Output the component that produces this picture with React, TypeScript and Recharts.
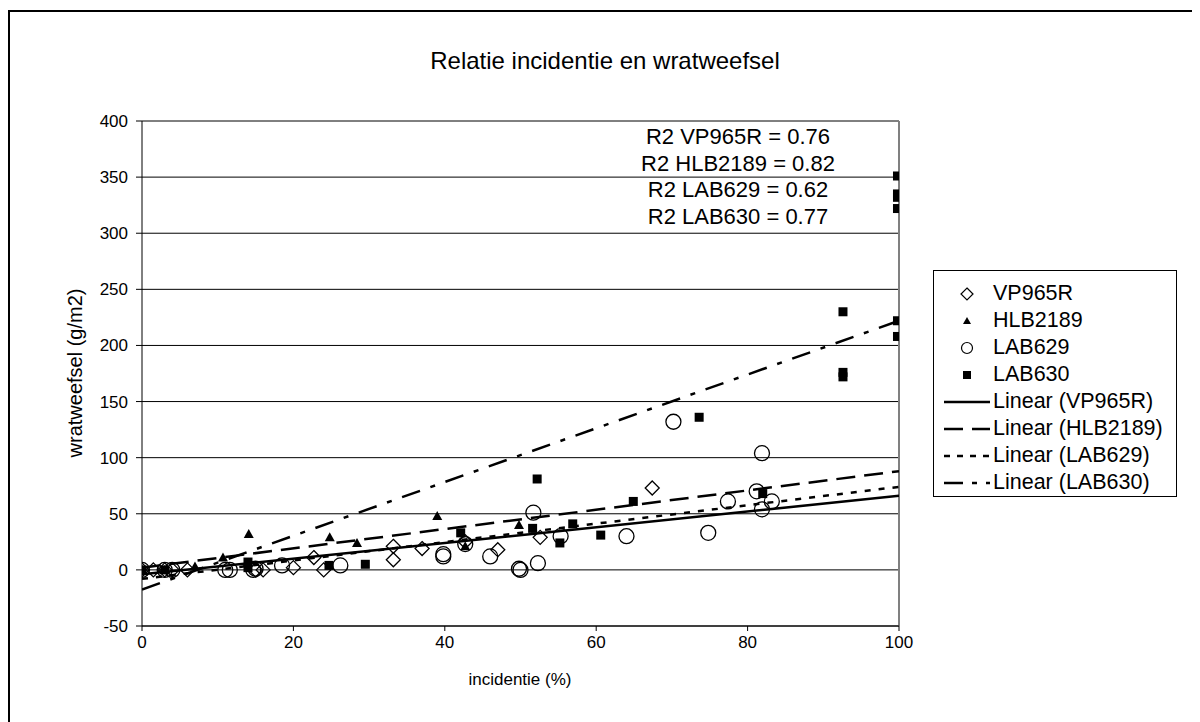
import {
  ComposedChart,
  Scatter,
  Line,
  XAxis,
  YAxis,
  CartesianGrid,
  ReferenceLine,
} from "recharts";

const FONT = '"Liberation Sans", Arial, sans-serif';

// observed points (incidentie %, wratweefsel g/m2)
const vpX = [0, 1.5, 3, 4, 6, 15, 16, 20, 22.7, 24, 33.2, 33.2, 37, 42.7, 47, 52.6, 67.4];
const vpY = [0, 0, 0, 0, 0, 0, 0, 2, 11, 0, 21, 9, 19, 25, 18, 29, 73];

const hlbX = [0, 3, 7, 10.7, 14.1, 24.8, 28.4, 39, 42.7, 49.8];
const hlbY = [0, 0, 3, 11, 32, 29, 24, 48, 21, 40];

const lab629X = [0, 3, 4, 11, 11.6, 14.7, 15, 18.5, 26.2, 39.8, 39.8, 42.7, 46, 49.8, 50, 52.3, 51.7, 55.3, 64, 70.2, 74.8, 77.4, 81.2, 81.9, 81.9, 83.2];
const lab629Y = [0, 0, 0, 0, 0, 0, 1, 4, 4, 12, 14, 23, 12, 1, 0, 6, 51, 30, 30, 132, 33, 61, 70, 104, 54, 61];

const lab630X = [0, 3, 14, 14, 24.7, 29.5, 42.1, 51.6, 52.2, 55.2, 56.9, 60.6, 64.9, 73.6, 82, 92.6, 92.6, 92.6, 99.8, 99.8, 99.8, 99.8, 99.8, 99.8];
const lab630Y = [0, 0, 2, 7, 4, 5, 33, 37, 81, 24, 41, 31, 61, 136, 68, 230, 176, 172, 351, 335, 332, 322, 222, 208];

// linear trendlines, end points
const trendX = [0, 100];
const vpTrendY = [-4, 66];
const hlbTrendY = [2, 88];
const lab629TrendY = [-8, 74];
const lab630TrendY = [-17.5, 222];

const r2Lines = [
  "R2 VP965R = 0.76",
  "R2 HLB2189 = 0.82",
  "R2 LAB629 = 0.62",
  "R2 LAB630 = 0.77",
];

const xTicks = [0, 20, 40, 60, 80, 100];
const yTicks = [-50, 0, 50, 100, 150, 200, 250, 300, 350, 400];

const pts = (xs: number[], ys: number[]) => xs.map((x, i) => ({ x, y: ys[i] }));

const DiamondShape = (p: any) => {
  const { cx, cy } = p;
  const r = 7;
  return (
    <path
      d={`M${cx},${cy - r}L${cx + r},${cy}L${cx},${cy + r}L${cx - r},${cy}Z`}
      fill="none"
      stroke="#000"
      strokeWidth={1.3}
    />
  );
};

const TriangleShape = (p: any) => {
  const { cx, cy } = p;
  return <path d={`M${cx},${cy - 5}L${cx + 5},${cy + 4}L${cx - 5},${cy + 4}Z`} fill="#000" />;
};

const CircleShape = (p: any) => {
  const { cx, cy } = p;
  return <circle cx={cx} cy={cy} r={7.5} fill="none" stroke="#000" strokeWidth={1.3} />;
};

const SquareShape = (p: any) => {
  const { cx, cy } = p;
  return <rect x={cx - 4.5} y={cy - 4.5} width={9} height={9} fill="#000" />;
};

const legendRows = [
  { label: "VP965R", kind: "diamond" },
  { label: "HLB2189", kind: "triangle" },
  { label: "LAB629", kind: "circle" },
  { label: "LAB630", kind: "square" },
  { label: "Linear (VP965R)", kind: "line", dash: "" },
  { label: "Linear (HLB2189)", kind: "line", dash: "19 9" },
  { label: "Linear (LAB629)", kind: "line", dash: "6 7" },
  { label: "Linear (LAB630)", kind: "line", dash: "19 9 5 9" },
];

function LegendIcon({ kind, dash }: { kind: string; dash?: string }) {
  return (
    <svg width={50} height={20} style={{ position: "absolute", left: 8, top: 4 }}>
      {kind === "diamond" && <path d="M25,4L31,10L25,16L19,10Z" fill="none" stroke="#000" strokeWidth={1.2} />}
      {kind === "triangle" && <path d="M25,6L29,13L21,13Z" fill="#000" />}
      {kind === "circle" && <circle cx={25} cy={10} r={5.5} fill="none" stroke="#000" strokeWidth={1.2} />}
      {kind === "square" && <rect x={21} y={6} width={8} height={8} fill="#000" />}
      {kind === "line" && (
        <line x1={2} y1={10} x2={48} y2={10} stroke="#000" strokeWidth={2.5} strokeDasharray={dash || undefined} />
      )}
    </svg>
  );
}

export default function App() {
  return (
    <div
      style={{
        position: "relative",
        width: 1190,
        height: 710,
        marginTop: 2,
        borderTop: "2px solid #000",
        borderLeft: "2px solid #000",
        overflow: "hidden",
        fontFamily: FONT,
        color: "#000",
        background: "#fff",
      }}
    >
      <ComposedChart
        width={1190}
        height={700}
        margin={{ top: 109, right: 301, left: 72, bottom: 56 }}
      >
        <CartesianGrid vertical={false} stroke="#000" strokeWidth={1} />
        <XAxis
          type="number"
          dataKey="x"
          domain={[0, 100]}
          ticks={xTicks}
          height={30}
          tick={{ fontSize: 17, fill: "#000", fontFamily: FONT }}
          tickSize={5}
          tickMargin={5}
          tickLine={{ stroke: "#000" }}
          axisLine={{ stroke: "#000" }}
          allowDataOverflow
        />
        <YAxis
          type="number"
          dataKey="y"
          domain={[-50, 400]}
          ticks={yTicks}
          width={60}
          tick={{ fontSize: 17, fill: "#000", fontFamily: FONT }}
          tickSize={6}
          tickMargin={8}
          tickLine={{ stroke: "#000" }}
          axisLine={{ stroke: "#000" }}
          allowDataOverflow
        />
        <ReferenceLine x={100} stroke="#808080" strokeWidth={2} />
        <Line data={pts(trendX, vpTrendY)} dataKey="y" stroke="#000" strokeWidth={2.5} dot={false} isAnimationActive={false} />
        <Line data={pts(trendX, hlbTrendY)} dataKey="y" stroke="#000" strokeWidth={2.5} strokeDasharray="19 9" dot={false} isAnimationActive={false} />
        <Line data={pts(trendX, lab629TrendY)} dataKey="y" stroke="#000" strokeWidth={2.5} strokeDasharray="6 8" dot={false} isAnimationActive={false} />
        <Line data={pts(trendX, lab630TrendY)} dataKey="y" stroke="#000" strokeWidth={2.5} strokeDasharray="19 11 5 11" dot={false} isAnimationActive={false} />
        <Scatter data={pts(vpX, vpY)} shape={DiamondShape} isAnimationActive={false} />
        <Scatter data={pts(hlbX, hlbY)} shape={TriangleShape} isAnimationActive={false} />
        <Scatter data={pts(lab629X, lab629Y)} shape={CircleShape} isAnimationActive={false} />
        <Scatter data={pts(lab630X, lab630Y)} shape={SquareShape} isAnimationActive={false} />
      </ComposedChart>

      {/* title */}
      <div style={{ position: "absolute", left: 345, width: 500, top: 35, textAlign: "center", fontSize: 24 }}>
        Relatie incidentie en wratweefsel
      </div>

      {/* R2 annotations */}
      <div style={{ position: "absolute", left: 598, width: 260, top: 112, textAlign: "center", fontSize: 22, lineHeight: "26.5px" }}>
        {r2Lines.map((t) => (
          <div key={t}>{t}</div>
        ))}
      </div>

      {/* axis titles */}
      <div style={{ position: "absolute", left: 360, width: 300, top: 658, textAlign: "center", fontSize: 17 }}>
        incidentie (%)
      </div>
      <div
        style={{
          position: "absolute",
          left: 65,
          top: 361,
          fontSize: 20,
          whiteSpace: "nowrap",
          transform: "translate(-50%, -50%) rotate(-90deg)",
        }}
      >
        wratweefsel (g/m2)
      </div>

      {/* legend */}
      <div
        style={{
          position: "absolute",
          left: 923,
          top: 258,
          width: 244,
          height: 227,
          border: "1px solid #000",
          boxSizing: "border-box",
          paddingTop: 9,
          fontSize: 21.5,
        }}
      >
        {legendRows.map((r) => (
          <div key={r.label} style={{ position: "relative", height: 27, lineHeight: "27px" }}>
            <LegendIcon kind={r.kind} dash={r.dash} />
            <span style={{ position: "absolute", left: 59 }}>{r.label}</span>
          </div>
        ))}
      </div>
    </div>
  );
}
